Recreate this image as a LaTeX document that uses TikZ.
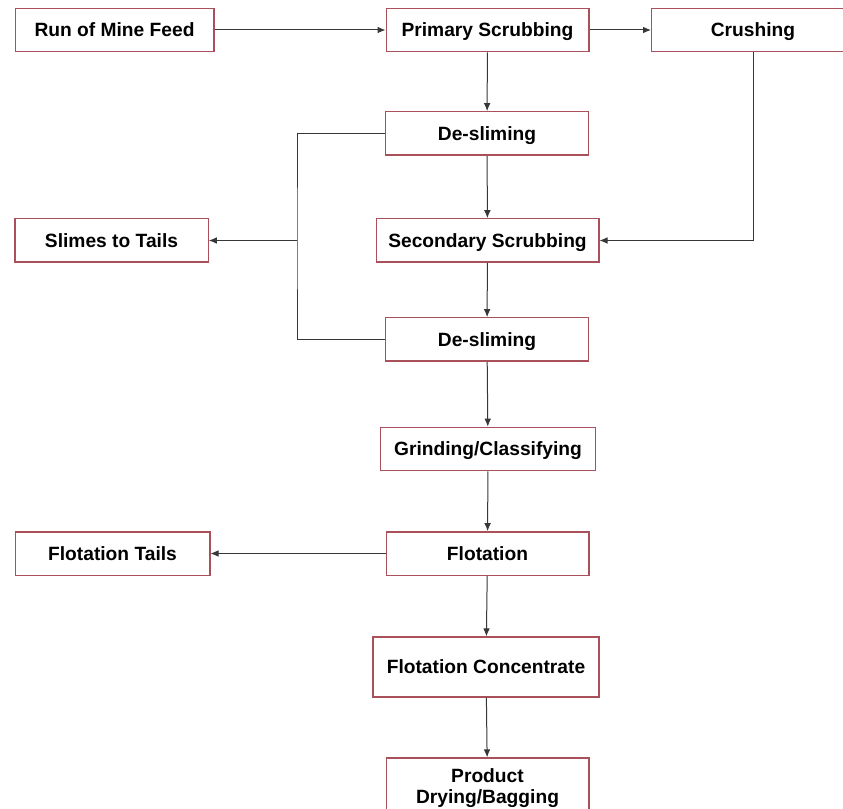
\documentclass[tikz,border=0pt]{standalone}
\usepackage{fontspec}
\setmainfont{Liberation Sans}
\usepackage{tikz}
\usetikzlibrary{arrows.meta, positioning}

\definecolor{boxred}{RGB}{170,80,90}
\definecolor{linegray}{RGB}{55,55,55}

\begin{document}
\begin{tikzpicture}[
    x=0.75pt, y=-0.75pt,
    every node/.style={font=\fontsize{14.4}{15.5}\selectfont\bfseries},
    procbase/.style={draw=boxred,line width=1pt,rectangle,fill=white,
        minimum width=152pt,minimum height=32.5pt,inner sep=2pt,align=center},
    proc/.style={procbase,text height=11.5pt,text depth=1.2pt},
    flow/.style={draw=linegray,line width=0.75pt,-{Latex[length=6pt,width=5pt]}},
    link/.style={draw=linegray,line width=0.75pt}
]

\clip (0,0) rectangle (843,809);

% Top row
\node[proc, minimum width=149pt] (feed) at (114.5,30) {Run of Mine Feed};
\node[proc] (prim) at (487.5,30) {Primary Scrubbing};
\node[proc] (crush) at (753,30) {Crushing};

% Middle column
\node[proc] (des1) at (487,133.5) {De-sliming};
\node[proc, minimum width=167pt] (sec) at (487.5,240.5) {Secondary Scrubbing};
\node[proc] (des2) at (487,339.5) {De-sliming};
\node[proc, minimum width=161pt] (grind) at (488,449) {Grinding/Classifying};
\node[proc] (flot) at (487.5,553.5) {Flotation};
\node[proc, minimum width=169.5pt, minimum height=45pt] (conc) at (486,667) {Flotation Concentrate};
\node[procbase, minimum height=45pt] (prod) at (487.5,788) {Product\\Drying/Bagging};

% Left column
\node[proc, minimum width=145pt] (slimes) at (111.5,240.5) {Slimes to Tails};
\node[proc, minimum width=146pt] (ftails) at (112.5,553.5) {Flotation Tails};
\coordinate (jn) at (297,240.5);

% Top connections
\draw[flow] (feed) -- (prim);
\draw[flow] (prim) -- (crush);
\draw[flow] (crush.south) |- (sec.east);

% Vertical flow
\draw[flow] (prim) -- (des1);
\draw[flow] (des1) -- (sec);
\draw[flow] (sec) -- (des2);
\draw[flow] (des2) -- (grind);
\draw[flow] (grind) -- (flot);
\draw[flow] (flot) -- (conc);
\draw[flow] (conc) -- (prod);

% Slimes bracket
\draw[link] (des1.west) -| (jn) |- (des2.west);
\draw[flow] (jn) -- (slimes);

% Tails
\draw[flow] (flot) -- (ftails);

\end{tikzpicture}
\end{document}
